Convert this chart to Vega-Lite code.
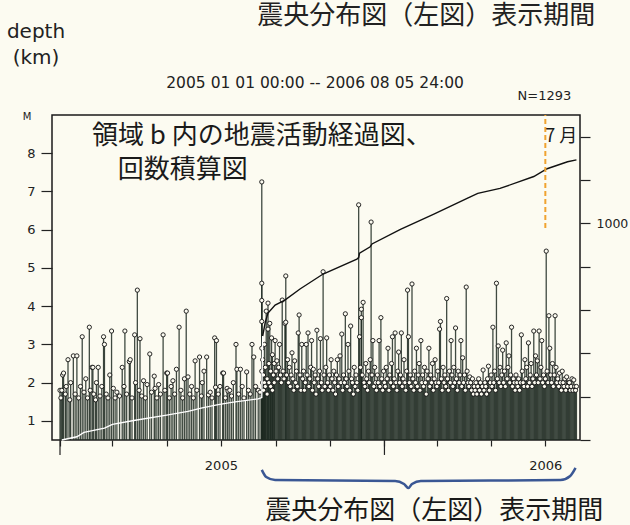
{
"$schema": "https://vega.github.io/schema/vega-lite/v6.json",
"width": 528, "height": 325,
"autosize": {"type": "none"},
"padding": {"left": 52, "top": 115, "right": 50, "bottom": 85},
"background": "#fcfbf1",
"config": {"view": {"stroke": "#1a1a1a", "strokeWidth": 1.5},
 "axis": {"labelFont": "DejaVu Sans", "labelFontSize": 13, "labelColor": "#222", "tickColor": "#222", "tickWidth": 1.2, "domain": false, "grid": false, "title": null, "labelOverlap": false, "labelFlush": false}},
"datasets": {
"eq": [
{"t":"2005-01-01","m":1.8},{"t":"2005-01-02","m":1.6},{"t":"2005-01-03","m":1.8},{"t":"2005-01-04","m":2.2},{"t":"2005-01-05","m":2.25},{"t":"2005-01-07","m":1.7},{"t":"2005-01-08","m":1.9},{"t":"2005-01-10","m":2.6},{"t":"2005-01-12","m":1.55},{"t":"2005-01-13","m":2.0},{"t":"2005-01-16","m":2.7},{"t":"2005-01-18","m":1.7},{"t":"2005-01-20","m":2.7},{"t":"2005-01-22","m":1.6},{"t":"2005-01-24","m":1.9},{"t":"2005-01-26","m":3.2},{"t":"2005-01-28","m":1.75},{"t":"2005-01-30","m":2.1},
{"t":"2005-02-01","m":1.6},{"t":"2005-02-03","m":3.45},{"t":"2005-02-04","m":1.8},{"t":"2005-02-06","m":2.4},{"t":"2005-02-07","m":2.4},{"t":"2005-02-08","m":1.7},{"t":"2005-02-10","m":1.55},{"t":"2005-02-11","m":2.0},{"t":"2005-02-13","m":2.4},{"t":"2005-02-15","m":1.65},{"t":"2005-02-17","m":1.9},{"t":"2005-02-19","m":3.2},{"t":"2005-02-20","m":3.0},{"t":"2005-02-22","m":1.7},{"t":"2005-02-24","m":1.6},{"t":"2005-02-26","m":2.2},{"t":"2005-02-28","m":3.35},
{"t":"2005-03-02","m":1.85},{"t":"2005-03-04","m":1.6},{"t":"2005-03-06","m":1.75},{"t":"2005-03-09","m":1.65},{"t":"2005-03-12","m":2.4},{"t":"2005-03-14","m":1.9},{"t":"2005-03-15","m":3.35},{"t":"2005-03-17","m":1.7},{"t":"2005-03-20","m":2.55},{"t":"2005-03-21","m":2.6},{"t":"2005-03-23","m":1.6},{"t":"2005-03-26","m":3.25},{"t":"2005-03-27","m":2.0},{"t":"2005-03-29","m":4.42},{"t":"2005-03-31","m":1.8},
{"t":"2005-04-01","m":3.15},{"t":"2005-04-03","m":1.65},{"t":"2005-04-05","m":2.05},{"t":"2005-04-07","m":1.6},{"t":"2005-04-09","m":1.95},{"t":"2005-04-12","m":2.75},{"t":"2005-04-14","m":1.75},{"t":"2005-04-17","m":2.17},{"t":"2005-04-18","m":1.85},{"t":"2005-04-20","m":1.6},{"t":"2005-04-22","m":1.95},{"t":"2005-04-24","m":1.7},{"t":"2005-04-27","m":3.25},{"t":"2005-04-29","m":1.8},
{"t":"2005-05-01","m":2.25},{"t":"2005-05-02","m":2.25},{"t":"2005-05-04","m":1.6},{"t":"2005-05-06","m":1.9},{"t":"2005-05-08","m":2.05},{"t":"2005-05-10","m":1.7},{"t":"2005-05-12","m":2.35},{"t":"2005-05-15","m":3.45},{"t":"2005-05-17","m":1.8},{"t":"2005-05-19","m":1.6},{"t":"2005-05-21","m":2.1},{"t":"2005-05-23","m":3.87},{"t":"2005-05-25","m":2.15},{"t":"2005-05-27","m":1.7},{"t":"2005-05-29","m":1.9},{"t":"2005-05-31","m":1.6},
{"t":"2005-06-02","m":2.57},{"t":"2005-06-04","m":1.8},{"t":"2005-06-07","m":2.67},{"t":"2005-06-09","m":1.65},{"t":"2005-06-10","m":2.0},{"t":"2005-06-12","m":2.3},{"t":"2005-06-15","m":2.67},{"t":"2005-06-17","m":1.68},{"t":"2005-06-19","m":1.75},{"t":"2005-06-21","m":1.6},{"t":"2005-06-24","m":3.17},{"t":"2005-06-25","m":1.88},{"t":"2005-06-26","m":3.1},{"t":"2005-06-28","m":1.7},{"t":"2005-06-30","m":1.9},
{"t":"2005-07-03","m":2.25},{"t":"2005-07-04","m":2.25},{"t":"2005-07-06","m":1.6},{"t":"2005-07-08","m":1.85},{"t":"2005-07-09","m":1.78},{"t":"2005-07-11","m":1.8},{"t":"2005-07-13","m":1.65},{"t":"2005-07-15","m":2.0},{"t":"2005-07-18","m":3.0},{"t":"2005-07-19","m":2.35},{"t":"2005-07-21","m":1.7},{"t":"2005-07-23","m":2.35},{"t":"2005-07-25","m":1.9},{"t":"2005-07-27","m":1.6},{"t":"2005-07-30","m":2.28},
{"t":"2005-08-01","m":1.8},{"t":"2005-08-03","m":1.7},{"t":"2005-08-05","m":3.0},{"t":"2005-08-07","m":2.67},{"t":"2005-08-09","m":1.9},{"t":"2005-08-12","m":1.8},{"t":"2005-08-14","m":1.75},
{"t":"2005-08-16","m":7.25},{"t":"2005-08-16","m":4.6},{"t":"2005-08-16","m":4.15},{"t":"2005-08-16","m":3.6},{"t":"2005-08-16","m":2.9},{"t":"2005-08-16","m":2.3},
{"t":"2005-08-17","m":2.6},{"t":"2005-08-17","m":2.0},{"t":"2005-08-18","m":2.2},{"t":"2005-08-18","m":1.8},{"t":"2005-08-19","m":3.0},{"t":"2005-08-19","m":2.0},{"t":"2005-08-20","m":2.4},{"t":"2005-08-20","m":1.9},{"t":"2005-08-21","m":3.87},{"t":"2005-08-22","m":2.1},{"t":"2005-08-22","m":1.7},{"t":"2005-08-23","m":4.08},{"t":"2005-08-23","m":3.4},{"t":"2005-08-24","m":2.5},{"t":"2005-08-24","m":2.0},{"t":"2005-08-25","m":3.55},{"t":"2005-08-26","m":2.3},{"t":"2005-08-26","m":1.9},{"t":"2005-08-27","m":3.17},{"t":"2005-08-28","m":2.73},{"t":"2005-08-28","m":1.8},{"t":"2005-08-29","m":2.2},{"t":"2005-08-30","m":2.5},{"t":"2005-08-30","m":2.0},{"t":"2005-08-31","m":3.1},
{"t":"2005-09-01","m":2.3},{"t":"2005-09-02","m":2.57},{"t":"2005-09-03","m":2.1},{"t":"2005-09-04","m":2.4},{"t":"2005-09-05","m":3.0},{"t":"2005-09-06","m":2.2},{"t":"2005-09-07","m":2.0},{"t":"2005-09-08","m":4.16},{"t":"2005-09-09","m":2.3},{"t":"2005-09-10","m":2.1},{"t":"2005-09-11","m":3.55},{"t":"2005-09-12","m":4.79},{"t":"2005-09-12","m":3.58},{"t":"2005-09-13","m":2.2},{"t":"2005-09-14","m":2.6},{"t":"2005-09-15","m":2.0},{"t":"2005-09-16","m":2.4},{"t":"2005-09-17","m":1.9},{"t":"2005-09-18","m":2.2},{"t":"2005-09-19","m":2.78},{"t":"2005-09-20","m":2.1},{"t":"2005-09-21","m":1.8},{"t":"2005-09-22","m":2.57},{"t":"2005-09-23","m":2.0},{"t":"2005-09-24","m":2.3},{"t":"2005-09-25","m":1.9},{"t":"2005-09-26","m":3.3},{"t":"2005-09-27","m":3.77},{"t":"2005-09-28","m":2.2},{"t":"2005-09-29","m":1.8},{"t":"2005-09-30","m":3.0},
{"t":"2005-10-01","m":2.1},{"t":"2005-10-02","m":2.3},{"t":"2005-10-03","m":1.8},{"t":"2005-10-04","m":2.0},{"t":"2005-10-05","m":3.0},{"t":"2005-10-06","m":2.2},{"t":"2005-10-07","m":3.3},{"t":"2005-10-08","m":1.9},{"t":"2005-10-09","m":2.1},{"t":"2005-10-10","m":2.4},{"t":"2005-10-11","m":3.1},{"t":"2005-10-12","m":1.8},{"t":"2005-10-13","m":2.35},{"t":"2005-10-14","m":2.0},{"t":"2005-10-15","m":2.2},{"t":"2005-10-16","m":1.7},{"t":"2005-10-17","m":3.37},{"t":"2005-10-18","m":2.1},{"t":"2005-10-19","m":1.9},{"t":"2005-10-20","m":2.3},{"t":"2005-10-21","m":3.15},{"t":"2005-10-22","m":2.0},{"t":"2005-10-23","m":1.8},{"t":"2005-10-24","m":4.9},{"t":"2005-10-25","m":2.2},{"t":"2005-10-26","m":1.9},{"t":"2005-10-27","m":2.4},{"t":"2005-10-28","m":3.17},{"t":"2005-10-29","m":2.0},{"t":"2005-10-30","m":1.8},{"t":"2005-10-31","m":2.2},
{"t":"2005-11-01","m":1.9},{"t":"2005-11-02","m":2.6},{"t":"2005-11-03","m":2.1},{"t":"2005-11-04","m":1.8},{"t":"2005-11-05","m":2.3},{"t":"2005-11-06","m":2.0},{"t":"2005-11-07","m":1.7},{"t":"2005-11-08","m":2.2},{"t":"2005-11-09","m":2.6},{"t":"2005-11-10","m":1.9},{"t":"2005-11-11","m":2.1},{"t":"2005-11-12","m":2.7},{"t":"2005-11-13","m":2.0},{"t":"2005-11-14","m":3.27},{"t":"2005-11-15","m":1.8},{"t":"2005-11-16","m":2.2},{"t":"2005-11-17","m":2.0},{"t":"2005-11-18","m":3.8},{"t":"2005-11-19","m":2.1},{"t":"2005-11-20","m":1.9},{"t":"2005-11-21","m":3.0},{"t":"2005-11-22","m":2.3},{"t":"2005-11-23","m":1.8},{"t":"2005-11-24","m":3.48},{"t":"2005-11-25","m":2.1},{"t":"2005-11-26","m":2.0},{"t":"2005-11-27","m":1.7},{"t":"2005-11-28","m":2.4},{"t":"2005-11-29","m":1.9},{"t":"2005-11-30","m":2.2},
{"t":"2005-12-01","m":2.0},{"t":"2005-12-02","m":1.8},{"t":"2005-12-03","m":6.65},{"t":"2005-12-04","m":3.2},{"t":"2005-12-05","m":2.4},{"t":"2005-12-06","m":3.92},{"t":"2005-12-06","m":3.7},{"t":"2005-12-07","m":2.2},{"t":"2005-12-08","m":4.1},{"t":"2005-12-09","m":2.0},{"t":"2005-12-10","m":1.9},{"t":"2005-12-11","m":2.5},{"t":"2005-12-12","m":2.1},{"t":"2005-12-13","m":1.8},{"t":"2005-12-14","m":2.3},{"t":"2005-12-15","m":2.0},{"t":"2005-12-16","m":2.6},{"t":"2005-12-17","m":6.2},{"t":"2005-12-18","m":2.2},{"t":"2005-12-19","m":3.1},{"t":"2005-12-20","m":1.9},{"t":"2005-12-21","m":2.4},{"t":"2005-12-22","m":2.0},{"t":"2005-12-23","m":1.8},{"t":"2005-12-24","m":2.2},{"t":"2005-12-25","m":2.0},{"t":"2005-12-26","m":3.1},{"t":"2005-12-27","m":1.9},{"t":"2005-12-28","m":3.7},{"t":"2005-12-29","m":2.1},{"t":"2005-12-30","m":1.8},{"t":"2005-12-31","m":2.3},
{"t":"2006-01-01","m":2.0},{"t":"2006-01-02","m":1.9},{"t":"2006-01-03","m":2.4},{"t":"2006-01-04","m":2.1},{"t":"2006-01-05","m":2.9},{"t":"2006-01-06","m":1.8},{"t":"2006-01-07","m":2.2},{"t":"2006-01-08","m":2.0},{"t":"2006-01-09","m":2.5},{"t":"2006-01-10","m":3.2},{"t":"2006-01-11","m":1.9},{"t":"2006-01-12","m":2.1},{"t":"2006-01-13","m":3.3},{"t":"2006-01-14","m":2.0},{"t":"2006-01-15","m":1.8},{"t":"2006-01-16","m":2.3},{"t":"2006-01-17","m":2.8},{"t":"2006-01-18","m":2.0},{"t":"2006-01-19","m":2.2},{"t":"2006-01-20","m":3.3},{"t":"2006-01-21","m":1.9},{"t":"2006-01-22","m":2.1},{"t":"2006-01-23","m":2.6},{"t":"2006-01-24","m":2.0},{"t":"2006-01-25","m":1.8},{"t":"2006-01-26","m":2.3},{"t":"2006-01-27","m":4.42},{"t":"2006-01-28","m":3.2},{"t":"2006-01-29","m":2.0},{"t":"2006-01-30","m":2.2},{"t":"2006-01-31","m":1.9},
{"t":"2006-02-01","m":4.58},{"t":"2006-02-02","m":2.1},{"t":"2006-02-03","m":1.8},{"t":"2006-02-04","m":2.3},{"t":"2006-02-05","m":2.0},{"t":"2006-02-06","m":2.9},{"t":"2006-02-07","m":1.9},{"t":"2006-02-08","m":2.2},{"t":"2006-02-09","m":2.5},{"t":"2006-02-10","m":1.8},{"t":"2006-02-11","m":3.1},{"t":"2006-02-12","m":2.0},{"t":"2006-02-13","m":2.2},{"t":"2006-02-14","m":1.9},{"t":"2006-02-15","m":2.4},{"t":"2006-02-16","m":2.0},{"t":"2006-02-17","m":1.7},{"t":"2006-02-18","m":2.3},{"t":"2006-02-19","m":2.1},{"t":"2006-02-20","m":2.9},{"t":"2006-02-21","m":1.9},{"t":"2006-02-22","m":2.2},{"t":"2006-02-23","m":2.0},{"t":"2006-02-24","m":2.5},{"t":"2006-02-25","m":1.8},{"t":"2006-02-26","m":2.1},{"t":"2006-02-27","m":2.6},{"t":"2006-02-28","m":2.0},
{"t":"2006-03-01","m":1.9},{"t":"2006-03-02","m":2.3},{"t":"2006-03-03","m":2.0},{"t":"2006-03-04","m":3.4},{"t":"2006-03-05","m":3.6},{"t":"2006-03-06","m":2.1},{"t":"2006-03-07","m":1.8},{"t":"2006-03-08","m":2.4},{"t":"2006-03-09","m":2.0},{"t":"2006-03-10","m":2.2},{"t":"2006-03-11","m":1.9},{"t":"2006-03-12","m":4.2},{"t":"2006-03-13","m":2.1},{"t":"2006-03-14","m":1.8},{"t":"2006-03-15","m":2.3},{"t":"2006-03-16","m":2.0},{"t":"2006-03-17","m":3.1},{"t":"2006-03-18","m":2.2},{"t":"2006-03-19","m":1.9},{"t":"2006-03-20","m":2.4},{"t":"2006-03-21","m":2.0},{"t":"2006-03-22","m":3.43},{"t":"2006-03-23","m":2.1},{"t":"2006-03-24","m":1.8},{"t":"2006-03-25","m":2.3},{"t":"2006-03-26","m":2.0},{"t":"2006-03-27","m":2.2},{"t":"2006-03-28","m":3.1},{"t":"2006-03-29","m":1.9},{"t":"2006-03-30","m":2.65},{"t":"2006-03-31","m":2.0},
{"t":"2006-04-01","m":2.2},{"t":"2006-04-02","m":1.8},{"t":"2006-04-03","m":4.5},{"t":"2006-04-04","m":2.3},{"t":"2006-04-05","m":2.0},{"t":"2006-04-06","m":1.9},{"t":"2006-04-07","m":2.15},{"t":"2006-04-08","m":2.0},{"t":"2006-04-09","m":1.8},{"t":"2006-04-10","m":2.1},{"t":"2006-04-11","m":1.7},{"t":"2006-04-12","m":1.9},{"t":"2006-04-13","m":1.8},{"t":"2006-04-14","m":2.0},{"t":"2006-04-15","m":1.7},{"t":"2006-04-16","m":1.9},{"t":"2006-04-17","m":2.1},{"t":"2006-04-18","m":1.8},{"t":"2006-04-19","m":2.0},{"t":"2006-04-20","m":1.7},{"t":"2006-04-21","m":1.9},{"t":"2006-04-22","m":2.33},{"t":"2006-04-23","m":1.8},{"t":"2006-04-24","m":2.0},{"t":"2006-04-25","m":1.9},{"t":"2006-04-26","m":1.7},{"t":"2006-04-27","m":2.1},{"t":"2006-04-28","m":2.43},{"t":"2006-04-29","m":1.8},{"t":"2006-04-30","m":2.0},
{"t":"2006-05-01","m":2.2},{"t":"2006-05-02","m":1.9},{"t":"2006-05-03","m":3.45},{"t":"2006-05-04","m":2.0},{"t":"2006-05-05","m":2.3},{"t":"2006-05-06","m":1.8},{"t":"2006-05-07","m":4.6},{"t":"2006-05-08","m":2.1},{"t":"2006-05-09","m":2.96},{"t":"2006-05-10","m":2.0},{"t":"2006-05-11","m":2.4},{"t":"2006-05-12","m":1.9},{"t":"2006-05-13","m":2.2},{"t":"2006-05-14","m":2.85},{"t":"2006-05-15","m":2.0},{"t":"2006-05-16","m":2.3},{"t":"2006-05-17","m":1.9},{"t":"2006-05-18","m":3.04},{"t":"2006-05-19","m":2.1},{"t":"2006-05-20","m":2.4},{"t":"2006-05-21","m":2.7},{"t":"2006-05-22","m":2.0},{"t":"2006-05-23","m":2.2},{"t":"2006-05-24","m":3.45},{"t":"2006-05-25","m":1.9},{"t":"2006-05-26","m":2.1},{"t":"2006-05-27","m":2.0},{"t":"2006-05-28","m":1.8},{"t":"2006-05-29","m":2.2},{"t":"2006-05-30","m":2.0},{"t":"2006-05-31","m":1.9},
{"t":"2006-06-01","m":2.1},{"t":"2006-06-02","m":1.8},{"t":"2006-06-03","m":2.0},{"t":"2006-06-04","m":3.25},{"t":"2006-06-05","m":2.3},{"t":"2006-06-06","m":2.0},{"t":"2006-06-07","m":1.9},{"t":"2006-06-08","m":2.6},{"t":"2006-06-09","m":2.1},{"t":"2006-06-10","m":2.4},{"t":"2006-06-11","m":1.9},{"t":"2006-06-12","m":3.04},{"t":"2006-06-13","m":2.0},{"t":"2006-06-14","m":2.2},{"t":"2006-06-15","m":2.5},{"t":"2006-06-16","m":1.9},{"t":"2006-06-17","m":2.1},{"t":"2006-06-18","m":3.35},{"t":"2006-06-19","m":2.0},{"t":"2006-06-20","m":2.7},{"t":"2006-06-21","m":2.2},{"t":"2006-06-22","m":2.57},{"t":"2006-06-23","m":2.0},{"t":"2006-06-24","m":3.35},{"t":"2006-06-25","m":2.1},{"t":"2006-06-26","m":2.4},{"t":"2006-06-27","m":3.1},{"t":"2006-06-28","m":2.0},{"t":"2006-06-29","m":2.2},{"t":"2006-06-30","m":1.9},
{"t":"2006-07-01","m":2.1},{"t":"2006-07-02","m":5.44},{"t":"2006-07-03","m":2.3},{"t":"2006-07-04","m":2.0},{"t":"2006-07-05","m":3.75},{"t":"2006-07-06","m":2.9},{"t":"2006-07-07","m":2.2},{"t":"2006-07-08","m":2.0},{"t":"2006-07-09","m":2.5},{"t":"2006-07-10","m":1.9},{"t":"2006-07-11","m":2.2},{"t":"2006-07-12","m":3.75},{"t":"2006-07-13","m":2.4},{"t":"2006-07-14","m":2.0},{"t":"2006-07-15","m":2.1},{"t":"2006-07-16","m":1.9},{"t":"2006-07-17","m":2.25},{"t":"2006-07-18","m":2.0},{"t":"2006-07-19","m":1.8},{"t":"2006-07-20","m":2.3},{"t":"2006-07-21","m":2.0},{"t":"2006-07-22","m":1.9},{"t":"2006-07-23","m":2.1},{"t":"2006-07-24","m":1.8},{"t":"2006-07-25","m":2.15},{"t":"2006-07-26","m":1.9},{"t":"2006-07-27","m":2.0},{"t":"2006-07-28","m":2.0},{"t":"2006-07-29","m":1.8},{"t":"2006-07-30","m":1.9},{"t":"2006-07-31","m":2.1},
{"t":"2006-08-01","m":1.8},{"t":"2006-08-02","m":2.07},{"t":"2006-08-03","m":1.9},{"t":"2006-08-04","m":1.8},{"t":"2006-08-05","m":1.9}
],
"cum": [
{"t":"2005-01-03","c":0,"seg":"pre"},{"t":"2005-01-20","c":15,"seg":"pre"},{"t":"2005-01-28","c":35,"seg":"pre"},{"t":"2005-02-20","c":55,"seg":"pre"},{"t":"2005-03-01","c":72,"seg":"pre"},{"t":"2005-03-25","c":90,"seg":"pre"},{"t":"2005-05-01","c":115,"seg":"pre"},{"t":"2005-05-25","c":132,"seg":"pre"},{"t":"2005-06-10","c":148,"seg":"pre"},{"t":"2005-06-28","c":163,"seg":"pre"},{"t":"2005-07-15","c":175,"seg":"pre"},{"t":"2005-08-12","c":190,"seg":"pre"},{"t":"2005-08-16","c":196,"seg":"pre"},{"t":"2005-08-17","c":480,"seg":"pre"},
{"t":"2005-08-17","c":480,"seg":"post"},{"t":"2005-08-20","c":545,"seg":"post"},{"t":"2005-08-23","c":586,"seg":"post"},{"t":"2005-08-31","c":623,"seg":"post"},{"t":"2005-09-11","c":646,"seg":"post"},{"t":"2005-09-28","c":697,"seg":"post"},{"t":"2005-10-24","c":766,"seg":"post"},{"t":"2005-12-01","c":835,"seg":"post"},{"t":"2005-12-03","c":842,"seg":"post"},{"t":"2005-12-04","c":862,"seg":"post"},{"t":"2005-12-16","c":892,"seg":"post"},{"t":"2005-12-18","c":905,"seg":"post"},{"t":"2006-01-19","c":972,"seg":"post"},{"t":"2006-02-25","c":1041,"seg":"post"},{"t":"2006-04-04","c":1115,"seg":"post"},{"t":"2006-04-16","c":1138,"seg":"post"},{"t":"2006-05-11","c":1161,"seg":"post"},{"t":"2006-06-18","c":1216,"seg":"post"},{"t":"2006-07-03","c":1252,"seg":"post"},{"t":"2006-07-26","c":1284,"seg":"post"},{"t":"2006-08-05","c":1293,"seg":"post"}
],
"brace": [
{"t":"2005-08-16","c":-138},{"t":"2005-08-21","c":-171},{"t":"2005-08-31","c":-185},{"t":"2006-01-13","c":-189},{"t":"2006-01-23","c":-203},{"t":"2006-01-28","c":-222},{"t":"2006-02-01","c":-203},{"t":"2006-02-11","c":-189},{"t":"2006-07-18","c":-185},{"t":"2006-07-29","c":-166},{"t":"2006-08-04","c":-129}
],
"years": [{"t":"2005-01-01"},{"t":"2006-01-01"}],
"one": [{}]
},
"resolve": {"scale": {"y": "independent"}},
"layer": [
{
"data": {"name": "eq"},
"layer": [
{
"mark": {"type": "rule", "color": "#1e2a22", "strokeWidth": 1.3, "opacity": 0.85},
"encoding": {
"x": {"field": "t", "type": "temporal",
 "scale": {"type": "utc", "domain": [{"year": 2004, "month": 12, "date": 23, "utc": true}, {"year": 2006, "month": 8, "date": 9, "utc": true}]},
 "axis": {"values": [
 {"year":2005,"month":1,"date":1,"utc":true},{"year":2005,"month":2,"date":1,"utc":true},{"year":2005,"month":3,"date":1,"utc":true},{"year":2005,"month":4,"date":1,"utc":true},{"year":2005,"month":5,"date":1,"utc":true},{"year":2005,"month":6,"date":1,"utc":true},{"year":2005,"month":7,"date":1,"utc":true},{"year":2005,"month":8,"date":1,"utc":true},{"year":2005,"month":9,"date":1,"utc":true},{"year":2005,"month":10,"date":1,"utc":true},{"year":2005,"month":11,"date":1,"utc":true},{"year":2005,"month":12,"date":1,"utc":true},
 {"year":2006,"month":1,"date":1,"utc":true},{"year":2006,"month":2,"date":1,"utc":true},{"year":2006,"month":3,"date":1,"utc":true},{"year":2006,"month":4,"date":1,"utc":true},{"year":2006,"month":5,"date":1,"utc":true},{"year":2006,"month":6,"date":1,"utc":true},{"year":2006,"month":7,"date":1,"utc":true},{"year":2006,"month":8,"date":1,"utc":true}],
 "labelExpr": "utcmonth(datum.value) == 6 ? '' + utcyear(datum.value) : ''",
 "tickSize": 6, "labelPadding": 13, "labelAngle": 0, "labelOverlap": false}},
"y": {"field": "m", "type": "quantitative", "scale": {"domain": [0.5, 9], "nice": false, "zero": false},
 "axis": {"orient": "left", "values": [1,2,3,4,5,6,7,8], "tickSize": 11, "labelPadding": 6, "labelOverlap": false}},
"y2": {"datum": 0.5}
}
},
{
"mark": {"type": "point", "shape": "circle", "filled": true, "fill": "#fcfbf1", "stroke": "#111", "strokeWidth": 0.9, "size": 18, "opacity": 1},
"encoding": {
"x": {"field": "t", "type": "temporal"},
"y": {"field": "m", "type": "quantitative"}
}
}
]
},
{
"layer": [
{
"data": {"name": "cum"},
"mark": {"type": "line", "strokeWidth": 1.4},
"encoding": {
"x": {"field": "t", "type": "temporal"},
"y": {"field": "c", "type": "quantitative", "scale": {"domain": [0, 1500], "nice": false, "zero": false},
 "axis": {"orient": "right", "values": [0,100,200,300,400,500,600,700,800,900,1000,1100,1200,1300,1400,1500], "tickCount": 15,
 "format": "d",
 "labelExpr": "datum.value > 0 && datum.value % 500 == 0 ? datum.label : ''",
 "tickSize": 10, "labelPadding": 6, "labelFontSize": 12.5, "labelOverlap": false, "labelFlush": false, "labelBound": false}},
"color": {"field": "seg", "type": "nominal", "scale": {"domain": ["pre", "post"], "range": ["#ffffff", "#111111"]}, "legend": null}
}
},
{
"data": {"name": "brace"},
"mark": {"type": "line", "color": "#3a5794", "strokeWidth": 2.5, "interpolate": "monotone"},
"encoding": {
"x": {"field": "t", "type": "temporal"},
"y": {"field": "c", "type": "quantitative"}
}
},
{
"data": {"name": "years"},
"mark": {"type": "rule", "color": "#222", "strokeWidth": 1.2},
"encoding": {
"x": {"field": "t", "type": "temporal"},
"y": {"datum": 0, "type": "quantitative"},
"y2": {"datum": -69}
}
},
{
"data": {"name": "one"},
"layer": [
{
"mark": {"type": "rule", "color": "#f0a330", "strokeWidth": 2, "strokeDash": [5, 3]},
"encoding": {
"x": {"datum": {"year": 2006, "month": 7, "date": 1, "utc": true}, "type": "temporal"},
"y": {"datum": 978, "type": "quantitative"},
"y2": {"datum": 1500}
}
},
{
"mark": {"type": "text", "text": "震央分布図（左図）表示期間", "font": "Noto Sans CJK JP", "fontSize": 26, "align": "center", "baseline": "middle", "color": "#222"},
"encoding": {"x": {"datum": {"year": 2006, "month": 2, "date": 17, "utc": true}, "type": "temporal"}, "y": {"datum": 1957, "type": "quantitative"}}
},
{
"mark": {"type": "text", "text": "depth", "font": "DejaVu Sans", "fontSize": 20, "align": "center", "baseline": "middle", "color": "#222"},
"encoding": {"x": {"datum": {"year": 2004, "month": 12, "date": 5, "utc": true}, "type": "temporal"}, "y": {"datum": 1883, "type": "quantitative"}}
},
{
"mark": {"type": "text", "text": "(km)", "font": "DejaVu Sans", "fontSize": 20, "align": "center", "baseline": "middle", "color": "#222"},
"encoding": {"x": {"datum": {"year": 2004, "month": 12, "date": 5, "utc": true}, "type": "temporal"}, "y": {"datum": 1763, "type": "quantitative"}}
},
{
"mark": {"type": "text", "text": "2005 01 01 00:00 -- 2006 08 05 24:00", "font": "DejaVu Sans", "fontSize": 15.5, "align": "center", "baseline": "middle", "color": "#222"},
"encoding": {"x": {"datum": {"year": 2005, "month": 10, "date": 15, "utc": true}, "type": "temporal"}, "y": {"datum": 1648, "type": "quantitative"}}
},
{
"mark": {"type": "text", "text": "N=1293", "font": "DejaVu Sans", "fontSize": 13, "align": "center", "baseline": "middle", "color": "#222"},
"encoding": {"x": {"datum": {"year": 2006, "month": 6, "date": 30, "utc": true}, "type": "temporal"}, "y": {"datum": 1588, "type": "quantitative"}}
},
{
"mark": {"type": "text", "text": "M", "font": "DejaVu Sans", "fontSize": 10, "align": "center", "baseline": "middle", "color": "#222"},
"encoding": {"x": {"datum": {"year": 2004, "month": 11, "date": 25, "utc": true}, "type": "temporal"}, "y": {"datum": 1491, "type": "quantitative"}}
},
{
"mark": {"type": "text", "text": "領域 b 内の地震活動経過図、", "font": "Noto Sans CJK JP", "fontSize": 26, "align": "left", "baseline": "middle", "color": "#1a1a1a"},
"encoding": {"x": {"datum": {"year": 2005, "month": 2, "date": 6, "utc": true}, "type": "temporal"}, "y": {"datum": 1403, "type": "quantitative"}}
},
{
"mark": {"type": "text", "text": "回数積算図", "font": "Noto Sans CJK JP", "fontSize": 26, "align": "left", "baseline": "middle", "color": "#1a1a1a"},
"encoding": {"x": {"datum": {"year": 2005, "month": 3, "date": 7, "utc": true}, "type": "temporal"}, "y": {"datum": 1246, "type": "quantitative"}}
},
{
"mark": {"type": "text", "text": "7 月", "font": "Noto Sans CJK JP", "fontSize": 18, "align": "center", "baseline": "middle", "color": "#1a1a1a"},
"encoding": {"x": {"datum": {"year": 2006, "month": 7, "date": 19, "utc": true}, "type": "temporal"}, "y": {"datum": 1398, "type": "quantitative"}}
},
{
"mark": {"type": "text", "text": "震央分布図（左図）表示期間", "font": "Noto Sans CJK JP", "fontSize": 26, "align": "center", "baseline": "middle", "color": "#1a1a1a"},
"encoding": {"x": {"datum": {"year": 2006, "month": 2, "date": 26, "utc": true}, "type": "temporal"}, "y": {"datum": -328, "type": "quantitative"}}
}
]
}
]
}
]
}
